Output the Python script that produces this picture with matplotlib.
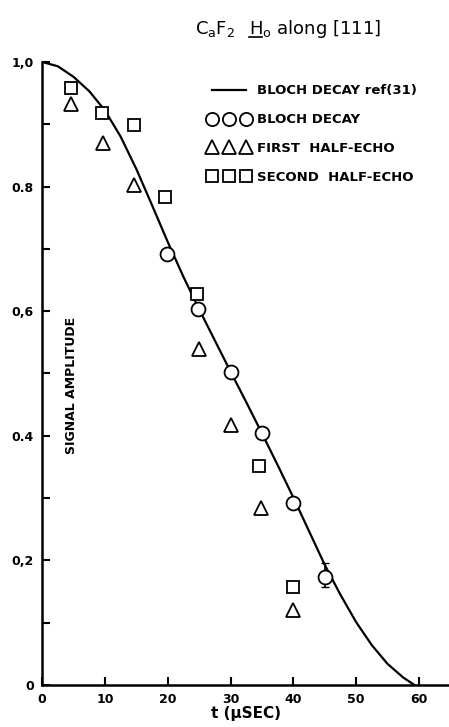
import matplotlib
matplotlib.use("Agg")
import matplotlib.pyplot as plt
from matplotlib.lines import Line2D
import numpy as np

# Bloch decay reference curve ref(31)
t_curve = [0, 2.5, 5, 7.5, 10, 12.5, 15, 17.5, 20, 22.5, 25, 27.5, 30, 32.5,
           35, 37.5, 40, 42.5, 45, 47.5, 50, 52.5, 55, 57.5, 59.3]
a_curve = [1.0, 0.993, 0.976, 0.953, 0.922, 0.880, 0.828, 0.770, 0.711, 0.655,
           0.603, 0.553, 0.503, 0.454, 0.404, 0.353, 0.301, 0.247, 0.193, 0.145,
           0.101, 0.064, 0.034, 0.012, 0.0]

# measured Bloch decay
t_bloch = [19.8, 24.8, 30, 35, 40, 45]
a_bloch = [0.692, 0.603, 0.502, 0.404, 0.292, 0.173]
err_lo = [0, 0, 0, 0, 0, 0.016]
err_hi = [0, 0, 0, 0, 0, 0.023]

# first half-echo
t_first = [4.6, 9.7, 14.7, 24.9, 30, 34.8, 40]
a_first = [0.933, 0.870, 0.803, 0.539, 0.417, 0.284, 0.120]

# second half-echo
t_second = [4.6, 9.6, 14.6, 19.5, 24.6, 34.6, 40]
a_second = [0.958, 0.918, 0.899, 0.783, 0.628, 0.352, 0.157]

x_ticks = [0, 10, 20, 30, 40, 50, 60]
y_ticks = [0, 0.2, 0.4, 0.6, 0.8, 1.0]
y_labels = ['0', '0,2', '0.4', '0,6', '0.8', '1,0']

fw = 'bold'
fig = plt.figure(figsize=(4.49, 7.27), dpi=100)
ax = fig.add_axes([0.094, 0.0578, 0.906, 0.857])

ax.plot(t_curve, a_curve, 'k-', lw=1.6, label='BLOCH DECAY ref(31)')
ax.errorbar(t_bloch, a_bloch, yerr=[err_lo, err_hi], fmt='none', ecolor='k',
            elinewidth=1.2, capsize=3)
ax.plot(t_bloch, a_bloch, 'o', ms=10, mfc='white', mec='k', mew=1.3,
        label='BLOCH DECAY')
ax.plot(t_first, a_first, '^', ms=10, mfc='white', mec='k', mew=1.3,
        label='FIRST  HALF-ECHO')
ax.plot(t_second, a_second, 's', ms=9, mfc='white', mec='k', mew=1.3,
        label='SECOND  HALF-ECHO')

ax.set_xlim(0, 64.8)
ax.set_ylim(0, 1.0)
for s in ['top', 'right']:
    ax.spines[s].set_visible(False)
for s in ['left', 'bottom']:
    ax.spines[s].set_linewidth(1.8)

ax.set_xticks(x_ticks)
ax.set_xticklabels([str(v) for v in x_ticks], fontweight=fw, fontsize=9)
ax.set_yticks(y_ticks)
ax.set_yticklabels(y_labels, fontweight=fw, fontsize=9)
ax.set_yticks(np.arange(0.1, 1.0, 0.2), minor=True)
ax.tick_params(axis='both', which='both', direction='in', length=6, width=1.5)
ax.tick_params(axis='y', which='major', pad=6)
ax.tick_params(axis='x', which='major', pad=6)

ax.set_xlabel(r't (µSEC)', fontweight=fw, fontsize=11, labelpad=0)
ax.text(0.072, 0.48, 'SIGNAL AMPLITUDE', transform=ax.transAxes, rotation=90,
        ha='center', va='center', fontsize=9, fontweight=fw)

# title: CaF2 and an underlined H_o
fig.text(0.435, 0.96, r'C$_\mathsf{a}$F$_\mathsf{2}$', ha='left', va='center',
         fontsize=13)
h_txt = fig.text(0.555, 0.96, r'H$_\mathsf{o}$ along [111]', ha='left',
                 va='center', fontsize=13)
fig.canvas.draw()
bb = h_txt.get_window_extent().transformed(fig.transFigure.inverted())
fig.add_artist(Line2D([bb.x0, bb.x0 + 0.028], [bb.y0 + 0.004, bb.y0 + 0.004],
                      transform=fig.transFigure, color='k', lw=1.2))

ax.legend(loc='upper left', bbox_to_anchor=(0.407, 0.964), frameon=False,
          numpoints=3, handlelength=3.2, handletextpad=0.53, labelspacing=1.2,
          borderpad=0, borderaxespad=0, markerscale=0.95,
          prop={'weight': fw, 'size': 9.5})

fig.savefig('out.png', dpi=100)
